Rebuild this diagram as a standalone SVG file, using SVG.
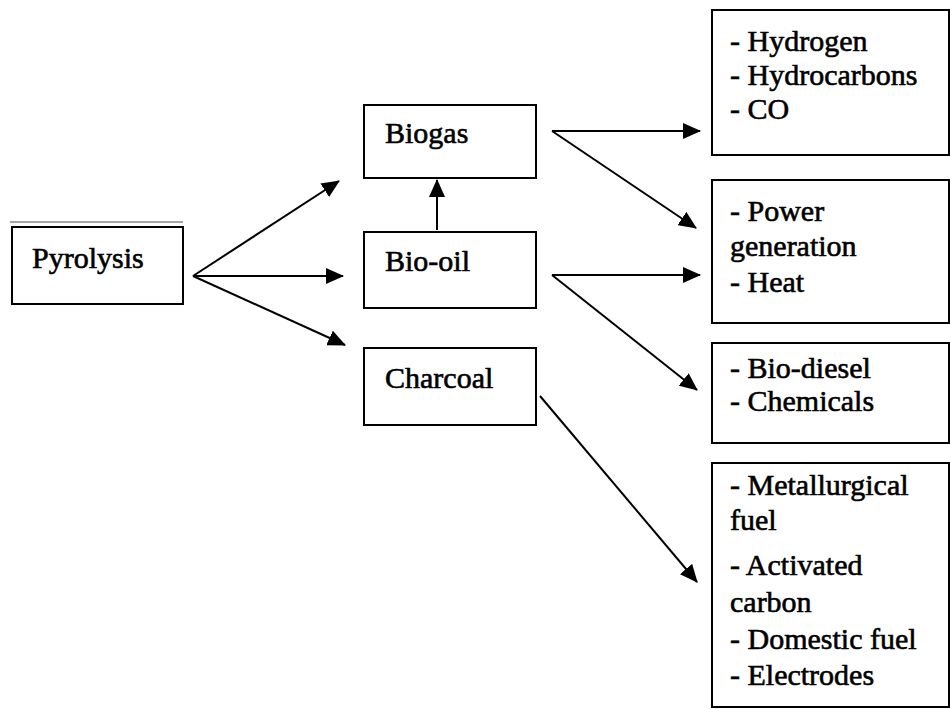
<svg xmlns="http://www.w3.org/2000/svg" width="950" height="709" viewBox="0 0 950 709">
<style>
.box{fill:#fff;stroke:#000;stroke-width:2}
.c{stroke:#000;stroke-width:2;fill:none;marker-end:url(#ah)}
</style>
<defs>
<marker id="ah" markerUnits="userSpaceOnUse" markerWidth="18" markerHeight="16" viewBox="0 0 18 16" refX="17" refY="8" orient="auto">
<path d="M0,0 L18,8 L0,16 Z" fill="#000"/>
</marker>
</defs>
<rect width="950" height="709" fill="#fff"/>
<line x1="10" y1="222" x2="183" y2="222" stroke="#888" stroke-width="1.5"/>
<g font-family="Liberation Serif" font-size="30" fill="#000" stroke="#000" stroke-width="0.6">
<g id="pyrolysis"><rect class="box" x="12" y="227" width="171" height="77"/><text x="32" y="268">Pyrolysis</text></g>
<g id="biogas"><rect class="box" x="364" y="105" width="172" height="73"/><text x="385" y="143">Biogas</text></g>
<g id="biooil"><rect class="box" x="364" y="232" width="172" height="76"/><text x="385" y="271">Bio-oil</text></g>
<g id="charcoal"><rect class="box" x="364" y="348" width="172" height="77"/><text x="385" y="388">Charcoal</text></g>
<g id="gases"><rect class="box" x="712" y="10" width="237" height="145"/><text><tspan x="730" y="51">- Hydrogen</tspan><tspan x="730" y="85">- Hydrocarbons</tspan><tspan x="730" y="119">- CO</tspan></text></g>
<g id="power"><rect class="box" x="712" y="180" width="237" height="143"/><text><tspan x="730" y="221">- Power</tspan><tspan x="730" y="256">generation</tspan><tspan x="730" y="292">- Heat</tspan></text></g>
<g id="diesel"><rect class="box" x="712" y="343" width="237" height="100"/><text><tspan x="730" y="378">- Bio-diesel</tspan><tspan x="730" y="411">- Chemicals</tspan></text></g>
<g id="carbon"><rect class="box" x="712" y="463" width="237" height="244"/><text><tspan x="730" y="495">- Metallurgical</tspan><tspan x="730" y="530">fuel</tspan><tspan x="730" y="575">- Activated</tspan><tspan x="730" y="612">carbon</tspan><tspan x="730" y="649">- Domestic fuel</tspan><tspan x="730" y="685">- Electrodes</tspan></text></g>
</g>
<g id="connectors">
<line class="c" x1="193" y1="276" x2="339" y2="181"/>
<line class="c" x1="193" y1="276" x2="343" y2="276"/>
<line class="c" x1="193" y1="276" x2="345" y2="345"/>
<line class="c" x1="437" y1="230" x2="437" y2="180"/>
<line class="c" x1="552" y1="131" x2="700" y2="131"/>
<line class="c" x1="552" y1="131" x2="696" y2="228"/>
<line class="c" x1="552" y1="275" x2="700" y2="275"/>
<line class="c" x1="552" y1="275" x2="697" y2="390"/>
<line class="c" x1="540" y1="396" x2="697" y2="582"/>
</g>
</svg>
